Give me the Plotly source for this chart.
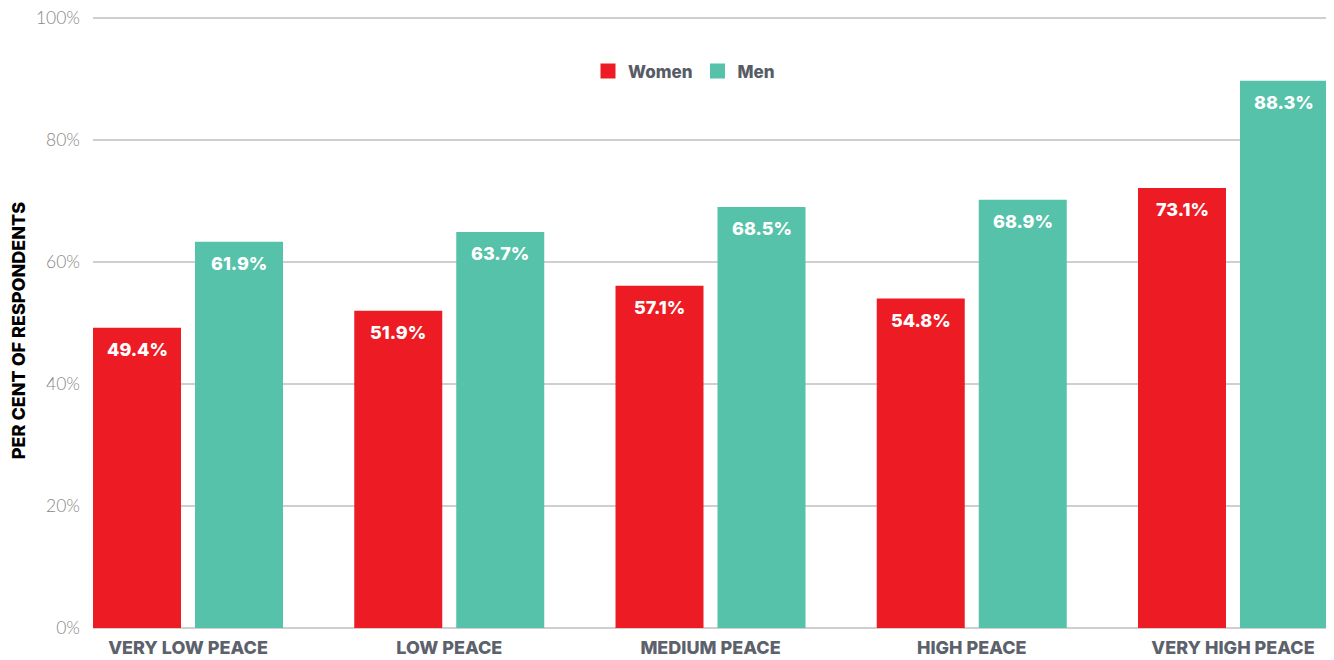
import plotly.graph_objects as go

categories = ["VERY LOW PEACE", "LOW PEACE", "MEDIUM PEACE", "HIGH PEACE", "VERY HIGH PEACE"]
women_values = [49.2, 52.0, 56.1, 54.0, 72.1]
men_values = [63.3, 64.9, 69.0, 70.2, 89.7]
women_labels = ["49.4%", "51.9%", "57.1%", "54.8%", "73.1%"]
men_labels = ["61.9%", "63.7%", "68.5%", "68.9%", "88.3%"]
y_ticks = [0, 20, 40, 60, 80, 100]
y_ticktext = ["0%", "20%", "40%", "60%", "80%", "100%"]

RED = "#ED1C24"
TEAL = "#55C2A9"
positions = list(range(len(categories)))

unit = 261.25
w_off = -95 / unit
m_off = 7 / unit
bw = 88 / unit

fig = go.Figure()
fig.add_trace(go.Bar(x=positions, y=women_values, offset=w_off, width=bw,
                     marker=dict(color=RED, line=dict(width=0)), showlegend=False, name="Women"))
fig.add_trace(go.Bar(x=positions, y=men_values, offset=m_off, width=bw,
                     marker=dict(color=TEAL, line=dict(width=0)), showlegend=False, name="Men"))
# legend entries
fig.add_trace(go.Scatter(x=[None], y=[None], mode="markers", name="Women",
                         marker=dict(symbol="square", size=15, color=RED)))
fig.add_trace(go.Scatter(x=[None], y=[None], mode="markers", name="Men",
                         marker=dict(symbol="square", size=15, color=TEAL)))

label_font = dict(family="Inter", size=18, color="white", weight=800)
for i, (v, t) in enumerate(zip(women_values, women_labels)):
    fig.add_annotation(x=i + w_off + bw / 2, y=v, text=t, showarrow=False,
                       yanchor="top", xanchor="center", yshift=-9, font=label_font)
for i, (v, t) in enumerate(zip(men_values, men_labels)):
    fig.add_annotation(x=i + m_off + bw / 2, y=v, text=t, showarrow=False,
                       yanchor="top", xanchor="center", yshift=-9, font=label_font)

fig.add_annotation(text="PER CENT OF RESPONDENTS", xref="paper", yref="paper",
                   x=(18 - 93) / 1237, y=0.485, textangle=-90, showarrow=False,
                   xanchor="center", yanchor="middle",
                   font=dict(family="Inter", size=18, color="#000000", weight=800))

fig.update_layout(
    width=1326, height=652,
    margin=dict(l=85, r=4, t=8, b=32),
    plot_bgcolor="white", paper_bgcolor="white",
    barmode="overlay",
    showlegend=True,
    legend=dict(orientation="h", x=(684 - 93) / 1237, y=(628 - 71.5) / 612,
                xanchor="center", yanchor="middle", bgcolor="rgba(0,0,0,0)",
                font=dict(family="Inter", size=17, color="#575C66", weight=800),
                itemsizing="trace"),
    xaxis=dict(range=[-95 / unit, 4 + 97 / unit], tickvals=positions, ticktext=categories,
               showgrid=False, zeroline=False, showline=False, ticks="", automargin=False,
               tickfont=dict(family="Inter", size=18, color="#5C616B", weight=800),
               ticklabelstandoff=7),
    yaxis=dict(range=[0, 100.3], tickvals=y_ticks, ticktext=y_ticktext,
               showgrid=True, gridcolor="#CFCFCF", gridwidth=1.5,
               zeroline=True, zerolinecolor="#CFCFCF", zerolinewidth=1.5,
               showline=False, ticks="", ticklabeloverflow="allow", automargin=False,
               tickfont=dict(family="Lato", size=17.5, color="#868686", weight=300),
               ticklabelstandoff=12),
)

fig.write_html("out.html")
